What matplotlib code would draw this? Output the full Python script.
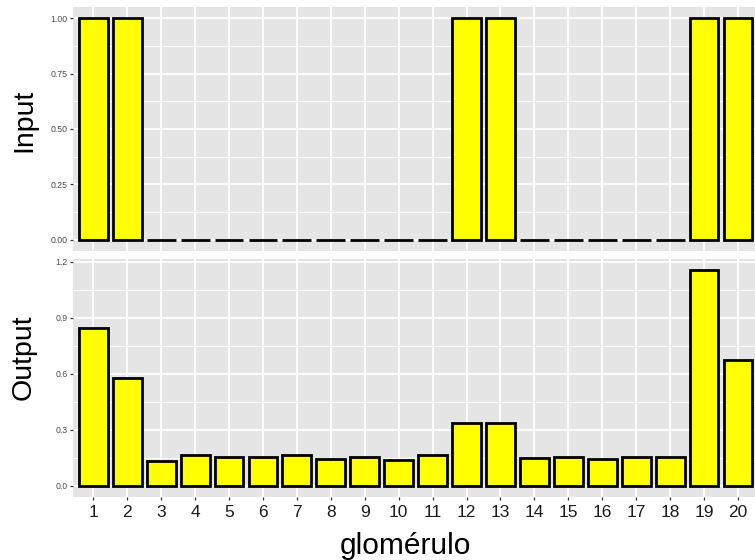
import matplotlib
matplotlib.use("Agg")
import matplotlib.pyplot as plt
from matplotlib.ticker import FixedLocator

# glomerulus index and activity levels
glomerulos = list(range(1, 21))
input_vals = [1, 1, 0, 0, 0, 0, 0, 0, 0, 0, 0, 1, 1, 0, 0, 0, 0, 0, 1, 1]
output_vals = [0.845, 0.580, 0.132, 0.165, 0.154, 0.154, 0.165, 0.144, 0.154, 0.140,
               0.165, 0.335, 0.339, 0.150, 0.157, 0.143, 0.154, 0.154, 1.158, 0.675]

input_ticks = [0.0, 0.25, 0.5, 0.75, 1.0]
input_ticklabels = ["0.00", "0.25", "0.50", "0.75", "1.00"]
output_ticks = [0.0, 0.3, 0.6, 0.9, 1.2]
output_ticklabels = ["0.0", "0.3", "0.6", "0.9", "1.2"]

plt.rcParams['font.family'] = ['Liberation Sans', 'DejaVu Sans']

W, H = 755, 560
fig = plt.figure(figsize=(W / 100, H / 100), dpi=100)

left = 73 / W
width = (758.3 - 73) / W
ax_top = fig.add_axes([left, (H - 251) / H, width, 244 / H])
ax_bot = fig.add_axes([left, (H - 496.8) / H, width, 238.2 / H])


def style(ax, ticks, ticklabels, minor, ylim):
    ax.set_facecolor("#E5E5E5")
    for s in ax.spines.values():
        s.set_visible(False)
    ax.set_xlim(0.4, 20.6)
    ax.set_ylim(*ylim)
    ax.set_yticks(ticks)
    ax.set_yticklabels(ticklabels)
    ax.yaxis.set_minor_locator(FixedLocator(minor))
    ax.set_xticks(glomerulos)
    ax.grid(which="major", color="white", linewidth=1.3)
    ax.grid(which="minor", axis="y", color="white", linewidth=0.65)
    ax.set_axisbelow(True)
    ax.tick_params(axis="y", which="major", length=2.2, width=0.9, color="#333333",
                   labelsize=6.3, labelcolor="#4D4D4D", pad=1.5)
    ax.tick_params(axis="y", which="minor", length=0)
    ax.tick_params(axis="x", length=2.2, width=0.9, color="#333333",
                   labelsize=12.5, labelcolor="#1A1A1A", pad=4)


style(ax_top, input_ticks, input_ticklabels, [0.125, 0.375, 0.625, 0.875], (-0.05, 1.05))
style(ax_bot, output_ticks, output_ticklabels, [0.15, 0.45, 0.75, 1.05], (-0.058, 1.218))
ax_top.tick_params(axis="x", labelbottom=False, length=0)

ax_top.bar(glomerulos, input_vals, width=0.85, color="#FFFF00", edgecolor="black",
           linewidth=2.0, zorder=3)
ax_bot.bar(glomerulos, output_vals, width=0.85, color="#FFFF00", edgecolor="black",
           linewidth=2.0, zorder=3)

# axis titles
fig.text(24 / W, 1 - 120 / H, "Input", fontsize=20.5, rotation=90,
         ha="center", va="center")
fig.text(24 / W, 1 - 357 / H, "Output", fontsize=20.5, rotation=90,
         ha="center", va="center")
fig.text(405 / W, 1 - 546 / H, "glomérulo", fontsize=21.5,
         ha="center", va="center")

fig.savefig("out.png", dpi=100)
